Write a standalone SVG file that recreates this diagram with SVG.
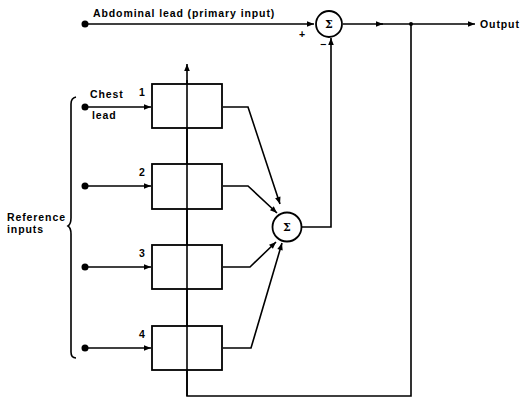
<svg xmlns="http://www.w3.org/2000/svg" width="531" height="401" viewBox="0 0 531 401">
<defs>
<marker id="ah" viewBox="0 0 10 10" refX="10" refY="5" markerWidth="9" markerHeight="7" markerUnits="userSpaceOnUse" orient="auto">
<path d="M0,1 L10,5 L0,9 Z" fill="#000"/>
</marker>
</defs>
<style>
.ln{fill:none;stroke:#000;stroke-width:1.6}
.bx{fill:#fff;stroke:#000;stroke-width:1.8}
.t{font-family:"Liberation Sans",Arial,sans-serif;font-size:10.5px;font-weight:bold;letter-spacing:0.9px;fill:#000}
.s{font-family:"DejaVu Serif",serif;font-size:11px;font-weight:bold;fill:#000}
</style>
<g id="connectors">
<path class="ln" d="M85,24 H314" marker-end="url(#ah)"/>
<path class="ln" d="M343,24 H383" marker-end="url(#ah)"/>
<path class="ln" d="M380,24 H475" marker-end="url(#ah)"/>
<path class="ln" d="M302,227 H331 V38" marker-end="url(#ah)"/>
<path class="ln" d="M411,24 V396 H187 V64" marker-end="url(#ah)"/>
<path class="ln" d="M85,107 H151" marker-end="url(#ah)"/>
<path class="ln" d="M85,186 H151" marker-end="url(#ah)"/>
<path class="ln" d="M85,267 H151" marker-end="url(#ah)"/>
<path class="ln" d="M85,348 H151" marker-end="url(#ah)"/>
<path class="ln" d="M223,107 H248 L280,204" marker-end="url(#ah)"/>
<path class="ln" d="M223,186 H248 L277,213" marker-end="url(#ah)"/>
<path class="ln" d="M223,267 H250 L276,242" marker-end="url(#ah)"/>
<path class="ln" d="M223,348 H251 L282,243" marker-end="url(#ah)"/>
<circle cx="411" cy="24" r="2" fill="#000"/>
</g>
<g id="inputs">
<circle cx="85" cy="24" r="3.5" fill="#000"/>
<circle cx="85" cy="107" r="3.5" fill="#000"/>
<circle cx="85" cy="186" r="3.5" fill="#000"/>
<circle cx="85" cy="267" r="3.5" fill="#000"/>
<circle cx="85" cy="348" r="3.5" fill="#000"/>
<text class="t" x="93" y="17">Abdominal lead (primary input)</text>
<text class="t" x="90" y="98">Chest</text>
<text class="t" x="92" y="119">lead</text>
<text class="t" x="480" y="28">Output</text>
</g>
<g id="box1"><rect class="bx" x="152" y="84" width="70" height="44"/><text class="t" x="139" y="96">1</text></g>
<g id="box2"><rect class="bx" x="152" y="164" width="70" height="45"/><text class="t" x="139" y="176">2</text></g>
<g id="box3"><rect class="bx" x="152" y="245" width="70" height="44"/><text class="t" x="139" y="257">3</text></g>
<g id="box4"><rect class="bx" x="152" y="326" width="70" height="44"/><text class="t" x="139" y="338">4</text></g>
<g id="vline"><path class="ln" d="M187,80 V396"/></g>
<g id="sum1"><circle class="bx" cx="329" cy="24" r="13"/><text class="s" x="329" y="28" text-anchor="middle">Σ</text><text class="t" x="299" y="38">+</text><text class="t" x="320" y="48">−</text></g>
<g id="sum2"><circle class="bx" cx="287" cy="227" r="14.5"/><text class="s" x="287" y="231" text-anchor="middle">Σ</text></g>
<g id="brace">
<path class="ln" d="M76,97 Q71,98 71,104 V218 Q71,224 68,226 Q71,228 71,234 V352 Q71,358 76,358"/>
<text class="t" x="7" y="221">Reference</text>
<text class="t" x="7" y="233">inputs</text>
</g>
</svg>
